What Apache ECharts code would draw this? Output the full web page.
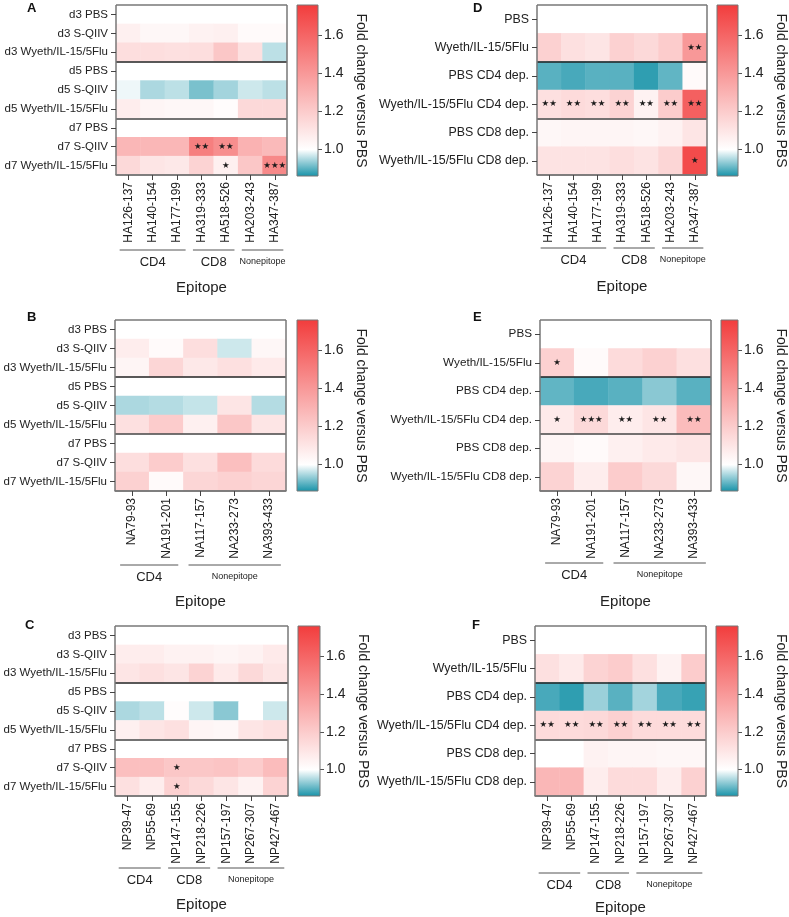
<!DOCTYPE html>
<html><head><meta charset="utf-8">
<script src="https://cdn.jsdelivr.net/npm/echarts@6/dist/echarts.min.js"></script>
<style>html,body{margin:0;padding:0;background:#fff}#c{width:789px;height:917px}</style>
</head><body><div id="c"></div>
<script>
const FONT = '"Liberation Sans", Arial, sans-serif';

// ---------- categories ----------
const haCols = ['HA126-137','HA140-154','HA177-199','HA319-333','HA518-526','HA203-243','HA347-387'];
const naCols = ['NA79-93','NA191-201','NA117-157','NA233-273','NA393-433'];
const npCols = ['NP39-47','NP55-69','NP147-155','NP218-226','NP157-197','NP267-307','NP427-467'];
const timeRows = ['d3 PBS','d3 S-QIIV','d3 Wyeth/IL-15/5Flu','d5 PBS','d5 S-QIIV','d5 Wyeth/IL-15/5Flu','d7 PBS','d7 S-QIIV','d7 Wyeth/IL-15/5Flu'];
const depRows = ['PBS','Wyeth/IL-15/5Flu','PBS CD4 dep.','Wyeth/IL-15/5Flu CD4 dep.','PBS CD8 dep.','Wyeth/IL-15/5Flu CD8 dep.'];
const haGroups = [['CD4',0,2],['CD8',3,4],['Nonepitope',5,6]];
const naGroups = [['CD4',0,1],['Nonepitope',2,4]];
const npGroups = [['CD4',0,1],['CD8',2,3],['Nonepitope',4,6]];
const cbTicks = [1.0, 1.2, 1.4, 1.6];
const cbMin = 0.86, cbMax = 1.76;

// ---------- values (fold change vs PBS) ----------
const aValues = [
  [1,1,1,1,1,1,1],
  [1.06,1.03,1.03,1.05,1.06,1.02,1.02],
  [1.13,1.13,1.12,1.13,1.22,1.12,0.96],
  [1,1,1,1,1,1,1],
  [0.99,0.95,0.96,0.92,0.945,0.97,0.96],
  [1.07,1.04,1.03,1.03,1.01,1.15,1.15],
  [1,1,1,1,1,1,1],
  [1.28,1.28,1.28,1.50,1.44,1.30,1.27],
  [1.15,1.10,1.09,1.17,1.06,1.22,1.46]
];
const aStars = [
  ['','','','','','',''],['','','','','','',''],['','','','','','',''],
  ['','','','','','',''],['','','','','','',''],['','','','','','',''],
  ['','','','','','',''],
  ['','','','**','**','',''],
  ['','','','','*','','***']
];
const bValues = [
  [1,1,1,1,1],
  [1.07,1.02,1.13,0.97,1.03],
  [1.04,1.16,1.09,1.12,1.08],
  [1,1,1,1,1],
  [0.95,0.955,0.965,1.10,0.955],
  [1.12,1.20,1.06,1.22,1.10],
  [1,1,1,1,1],
  [1.13,1.20,1.12,1.25,1.14],
  [1.18,1.02,1.16,1.18,1.16]
];
const bStars = [
  ['','','','',''],['','','','',''],['','','','',''],
  ['','','','',''],['','','','',''],['','','','',''],
  ['','','','',''],['','','','',''],['','','','','']
];
const cValues = [
  [1,1,1,1,1,1,1],
  [1.07,1.07,1.05,1.05,1.04,1.05,1.08],
  [1.10,1.12,1.10,1.17,1.08,1.15,1.10],
  [1,1,1,1,1,1,1],
  [0.95,0.96,1.01,0.97,0.93,1.0,0.97],
  [1.06,1.10,1.12,1.04,1.03,1.10,1.12],
  [1,1,1,1,1,1,1],
  [1.25,1.25,1.22,1.22,1.23,1.20,1.26],
  [1.12,1.07,1.18,1.15,1.10,1.05,1.17]
];
const cStars = [
  ['','','','','','',''],['','','','','','',''],['','','','','','',''],
  ['','','','','','',''],['','','','','','',''],['','','','','','',''],
  ['','','','','','',''],
  ['','','*','','','',''],
  ['','','*','','','','']
];
const dValues = [
  [1,1,1,1,1,1,1],
  [1.18,1.12,1.10,1.18,1.15,1.20,1.40],
  [0.90,0.89,0.90,0.90,0.875,0.905,1.02],
  [1.12,1.14,1.13,1.17,1.05,1.20,1.62],
  [1.03,1.04,1.04,1.04,1.03,1.05,1.10],
  [1.11,1.11,1.11,1.13,1.11,1.16,1.70]
];
const dStars = [
  ['','','','','','',''],
  ['','','','','','','**'],
  ['','','','','','',''],
  ['**','**','**','**','**','**','**'],
  ['','','','','','',''],
  ['','','','','','','*']
];
const eValues = [
  [1,1,1,1,1],
  [1.18,1.02,1.14,1.18,1.12],
  [0.905,0.89,0.90,0.93,0.90],
  [1.08,1.15,1.07,1.10,1.26],
  [1.04,1.02,1.06,1.08,1.10],
  [1.17,1.07,1.20,1.15,1.03]
];
const eStars = [
  ['','','','',''],
  ['*','','','',''],
  ['','','','',''],
  ['*','***','**','**','**'],
  ['','','','',''],
  ['','','','','']
];
const fValues = [
  [1,1,1,1,1,1,1],
  [1.12,1.08,1.17,1.20,1.12,1.05,1.20],
  [0.89,0.875,0.94,0.90,0.945,0.89,0.88],
  [1.14,1.14,1.15,1.18,1.14,1.14,1.14],
  [1.0,1.0,1.05,1.04,1.04,1.03,1.03],
  [1.28,1.28,1.07,1.14,1.14,1.07,1.18]
];
const fStars = [
  ['','','','','','',''],
  ['','','','','','',''],
  ['','','','','','',''],
  ['**','**','**','**','**','**','**'],
  ['','','','','','',''],
  ['','','','','','','']
];

// ---------- colour scale ----------
const RED = [242, 60, 60], WHITE = [255, 255, 255], TEAL = [22, 146, 168];
function hex(c){ return '#' + c.map(v => Math.round(v).toString(16).padStart(2,'0')).join(''); }
function mix(a, b, t){ return a.map((v,i) => v + (b[i]-v)*t); }
function colorAt(v){
  if (v <= 1.0) return hex(mix(WHITE, TEAL, Math.min(1,(1.0 - v)/(1.0 - cbMin))));
  return hex(mix(WHITE, RED, Math.min(1,(v - 1.0)/(cbMax - 1.0))));
}
const scaleColors = [];
for (let k = 0; k <= 90; k++) scaleColors.push(colorAt(cbMin + (cbMax - cbMin) * k / 90));

// ---------- panel layout ----------
const panels = [
  {L:'A', rows:timeRows, cols:haCols, vals:aValues, stars:aStars, groups:haGroups, sep:3, yFont:11.5,
   grid:{left:116, top:5, width:171, height:170}, cb:{left:297, top:5, width:21, height:171},
   letter:{left:27, top:2}, gOff:75, nameGap:105},
  {L:'B', rows:timeRows, cols:naCols, vals:bValues, stars:bStars, groups:naGroups, sep:3, yFont:11.5,
   grid:{left:115, top:320, width:171, height:171}, cb:{left:297, top:320, width:21, height:171},
   letter:{left:27, top:311}, gOff:74, nameGap:103},
  {L:'C', rows:timeRows, cols:npCols, vals:cValues, stars:cStars, groups:npGroups, sep:3, yFont:11.5,
   grid:{left:115, top:626, width:173, height:170}, cb:{left:298, top:626, width:22, height:170},
   letter:{left:25, top:619}, gOff:72, nameGap:101},
  {L:'D', rows:depRows, cols:haCols, vals:dValues, stars:dStars, groups:haGroups, sep:2, yFont:12.4,
   grid:{left:537, top:5, width:170, height:170}, cb:{left:717, top:5, width:22, height:171},
   letter:{left:473, top:2}, gOff:73, nameGap:104},
  {L:'E', rows:depRows, cols:naCols, vals:eValues, stars:eStars, groups:naGroups, sep:2, yFont:11.7,
   grid:{left:540, top:320, width:171, height:171}, cb:{left:721, top:320, width:21, height:171},
   letter:{left:473, top:311}, gOff:72, nameGap:103},
  {L:'F', rows:depRows, cols:npCols, vals:fValues, stars:fStars, groups:npGroups, sep:2, yFont:12.4,
   grid:{left:535, top:626, width:171, height:170}, cb:{left:716, top:626, width:22, height:170},
   letter:{left:472, top:619}, gOff:77, nameGap:104}
];

const grids = [], xAxes = [], yAxes = [], series = [], titles = [];
const gradStops = [
  {offset:0, color:hex(RED)},
  {offset:(cbMax-1.0)/(cbMax-cbMin), color:'#ffffff'},
  {offset:1, color:hex(TEAL)}
];

panels.forEach((p, gi) => {
  grids.push(Object.assign({containLabel:false}, p.grid));
  titles.push({text:p.L, left:p.letter.left, top:p.letter.top, padding:0,
    textStyle:{fontSize:13, fontWeight:'bold', color:'#111', fontFamily:FONT}});
  xAxes.push({
    gridIndex: gi, type:'category', data:p.cols, z:10,
    axisLine:{show:true, lineStyle:{color:'#777', width:1.5}},
    axisTick:{show:true, alignWithLabel:true, interval:0, length:5, lineStyle:{color:'#444'}},
    axisLabel:{rotate:90, interval:0, fontSize:12, color:'#222', margin:7, fontFamily:FONT},
    splitLine:{show:true, interval:(i) => i === 0, lineStyle:{color:'#777', width:1.5}},
    name:'Epitope', nameLocation:'middle', nameGap:p.nameGap,
    nameTextStyle:{fontSize:15, color:'#222', fontFamily:FONT, verticalAlign:'top'}
  });
  yAxes.push({
    gridIndex: gi, type:'category', data:p.rows, inverse:true, z:10,
    axisLine:{show:false},
    axisTick:{show:true, alignWithLabel:true, interval:0, length:5, lineStyle:{color:'#444'}},
    axisLabel:{interval:0, fontSize:p.yFont, color:'#222', margin:8, fontFamily:FONT},
    splitLine:{show:true, interval:(i) => i % p.sep === 0,
      lineStyle:{color:['#777','#222','#444','#777'], width:1.5}}
  });
  const data = [];
  p.vals.forEach((row, i) => row.forEach((v, j) => data.push([j, i, v, p.stars[i][j]])));
  series.push({
    type:'heatmap', xAxisIndex:gi, yAxisIndex:gi, data:data, progressive:0,
    emphasis:{disabled:true},
    label:{show:true, formatter:(q) => q.data[3] ? q.data[3].replace(/\*/g,'\u2605') : '',
      fontSize:8.5, color:'#1a1a1a', fontFamily:'DejaVu Sans'}
  });
});

panels.forEach((p, gi) => {
  series.push({
    type:'custom', xAxisIndex:gi, yAxisIndex:gi, silent:true, z:5, clip:false,
    data:p.groups.map(g => [g[1], g[2], 0]),
    encode:{x:[0,1], y:2},
    renderItem(params, api){
      const g = p.groups[params.dataIndex];
      const a = api.coord([api.value(0), 0]);
      const b = api.coord([api.value(1), 0]);
      const w = api.size([1, 0])[0];
      const cs = params.coordSys;
      const pad = w * 0.15;
      const x0 = a[0] - w/2 + pad, x1 = b[0] + w/2 - pad;
      const y = cs.y + cs.height + p.gOff;
      const small = g[0] === 'Nonepitope';
      return {type:'group', children:[
        {type:'line', shape:{x1:x0, y1:y, x2:x1, y2:y}, style:{stroke:'#555', lineWidth:1}},
        {type:'text', style:{text:g[0], x:(x0+x1)/2, y:y+12, align:'center', verticalAlign:'middle',
          fontSize: small ? 9 : 13, fontFamily:FONT, fill:'#222'}}
      ]};
    }
  });
});

panels.forEach((p, k) => {
  const gi = panels.length + k;
  grids.push(Object.assign({containLabel:false}, p.cb));
  xAxes.push({gridIndex:gi, type:'category', data:[''], show:false});
  yAxes.push({
    gridIndex:gi, type:'value', min:cbMin, max:cbMax, position:'right',
    axisLine:{show:false},
    axisTick:{show:true, customValues:cbTicks, length:4, lineStyle:{color:'#555'}},
    axisLabel:{show:true, customValues:cbTicks, formatter:(v) => Number(v).toFixed(1),
      fontSize:14, color:'#222', margin:6, fontFamily:FONT},
    splitLine:{show:false},
    name:'Fold change versus PBS', nameLocation:'middle', nameRotate:-90, nameGap:36,
    nameTextStyle:{fontSize:14, color:'#222', fontFamily:FONT}
  });
  series.push({
    type:'custom', xAxisIndex:gi, yAxisIndex:gi, silent:true, clip:false,
    data:[[0, cbMin, cbMax]], encode:{x:0, y:[1,2]},
    renderItem(params, api){
      const top = api.coord([0, api.value(2)]);
      const bot = api.coord([0, api.value(1)]);
      const w = api.size([1, 0])[0];
      return {type:'rect', shape:{x:top[0]-w/2, y:top[1], width:w, height:bot[1]-top[1]},
        style:{fill:{type:'linear', x:0, y:0, x2:0, y2:1, colorStops:gradStops}, stroke:'#777', lineWidth:1}};
    }
  });
});

const chart = echarts.init(document.getElementById('c'), null, {renderer:'canvas'});
chart.setOption({
  animation:false,
  backgroundColor:'#ffffff',
  title:titles,
  grid:grids, xAxis:xAxes, yAxis:yAxes,
  visualMap:{type:'continuous', show:false, min:cbMin, max:cbMax, dimension:2,
    seriesIndex:[0,1,2,3,4,5], inRange:{color:scaleColors}},
  series:series
});
</script></body></html>
